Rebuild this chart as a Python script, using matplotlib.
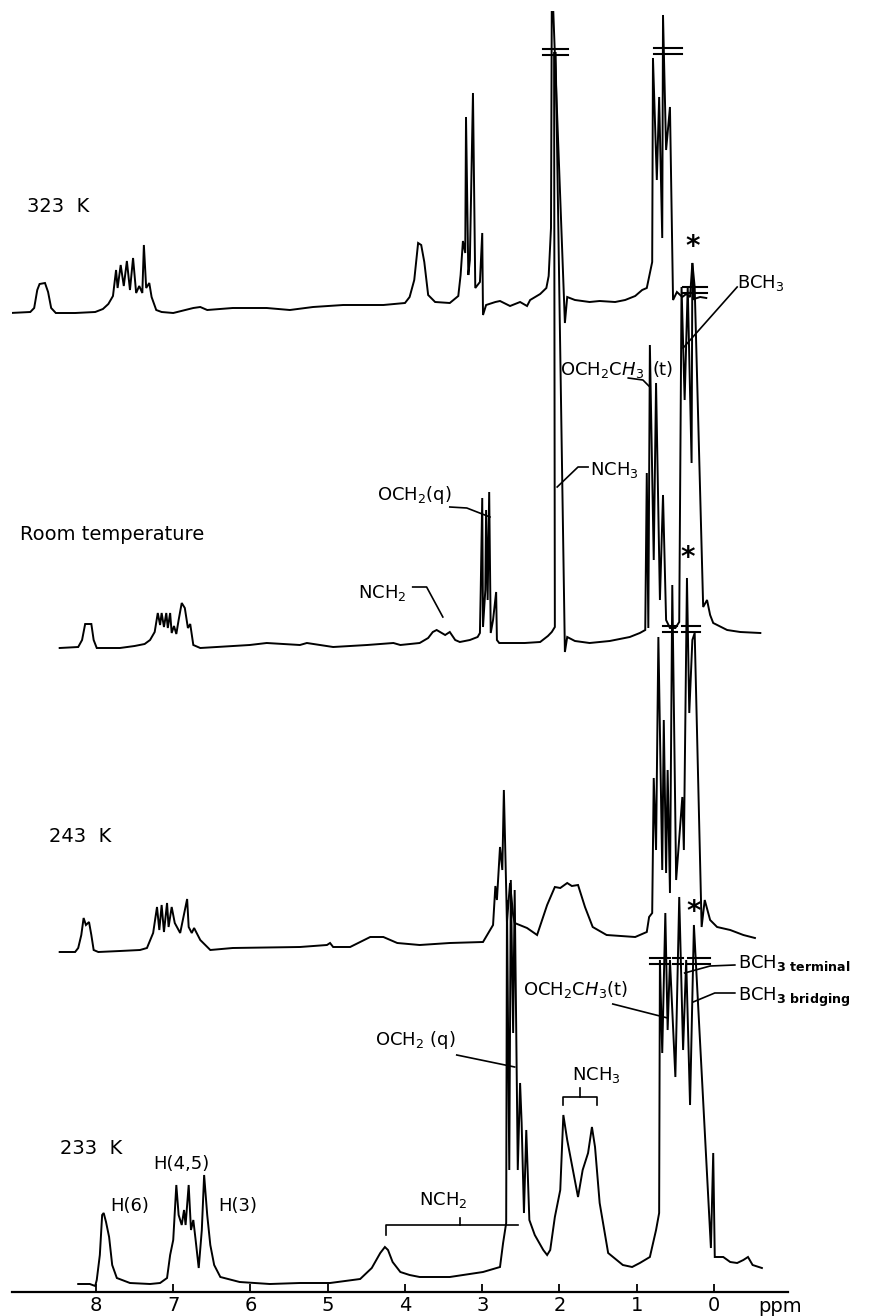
import numpy as np
import matplotlib.pyplot as plt

# (shift in ppm as read on the common axis, trace height above its own baseline)
trace_323 = [(9.11, -1), (8.85, 0), (8.80, 4), (8.76, 22), (8.73, 28), (8.66, 29), (8.62, 20), (8.58, 4),
             (8.52, -1), (8.27, -1), (8.01, 0), (7.91, 3), (7.84, 8), (7.78, 16), (7.74, 42), (7.72, 24),
             (7.68, 47), (7.64, 26), (7.60, 51), (7.56, 22), (7.52, 54), (7.48, 19), (7.44, 26), (7.40, 19),
             (7.38, 67), (7.35, 24), (7.31, 29), (7.28, 15), (7.22, 2), (7.15, 0), (7.00, -1), (6.74, 4),
             (6.65, 5), (6.56, 2), (6.23, 4), (5.79, 4), (5.49, 2), (5.19, 5), (4.80, 7), (4.28, 7),
             (4.00, 9), (3.94, 15), (3.88, 32), (3.83, 69), (3.79, 67),
             (3.75, 50), (3.70, 17), (3.61, 10), (3.42, 9), (3.31, 16), (3.28, 37), (3.25, 71), (3.22, 59),
             (3.21, 195), (3.18, 37), (3.16, 52), (3.12, 219), (3.09, 24), (3.03, 30), (3.00, 79), (2.99, -3),
             (2.95, 7), (2.83, 10), (2.77, 11), (2.64, 6), (2.51, 10), (2.42, 6), (2.38, 12), (2.25, 18),
             (2.17, 24), (2.14, 36), (2.11, 84), (2.10, 300), (2.08, 300), (1.93, -11), (1.90, 15), (1.80, 12),
             (1.61, 10), (1.48, 11), (1.28, 10), (1.15, 12), (1.02, 16), (0.93, 22), (0.87, 24), (0.80, 50),
             (0.79, 254), (0.74, 132), (0.71, 215), (0.67, 74), (0.66, 297), (0.62, 162), (0.57, 205), (0.53, 12),
             (0.48, 20), (0.41, 15), (0.36, 18), (0.31, 15), (0.28, 49), (0.26, 13), (0.18, 15), (0.10, 14)]

trace_rt = [(8.47, -3), (8.23, -2), (8.18, 5), (8.14, 21), (8.06, 21), (8.03, 5), (7.99, -3), (7.69, -3),
            (7.50, -1), (7.37, 1), (7.30, 5), (7.24, 13), (7.20, 32), (7.17, 20), (7.15, 32), (7.12, 18),
            (7.09, 32), (7.07, 17), (7.04, 32), (7.02, 12), (6.99, 19), (6.96, 11), (6.93, 25), (6.89, 42),
            (6.85, 37), (6.81, 17), (6.78, 21), (6.74, 0), (6.65, -3), (6.01, 0), (5.79, 2), (5.36, 0),
            (5.27, 2), (4.93, -2), (4.71, -1), (4.49, 0), (4.15, 2),
            (4.06, 0), (3.81, 2), (3.70, 7), (3.64, 13), (3.59, 15), (3.48, 10), (3.42, 13), (3.35, 5),
            (3.29, 3), (3.16, 5), (3.06, 8), (3.03, 12), (3.02, 53), (3.00, 147), (2.99, 18), (2.96, 55),
            (2.95, 135), (2.93, 45), (2.91, 153), (2.89, 12), (2.86, 25), (2.82, 53), (2.81, 5), (2.78, 2),
            (2.64, 2), (2.45, 2), (2.25, 3), (2.15, 9), (2.10, 13), (2.06, 18), (2.07, 592), (2.05, 592),
            (1.93, -7), (1.90, 8), (1.80, 4), (1.61, 2), (1.35, 4), (1.09, 8), (0.96, 12), (0.89, 15),
            (0.87, 172), (0.85, 17), (0.83, 300), (0.78, 85), (0.75, 262), (0.70, 45), (0.66, 150), (0.62, 25),
            (0.57, 17), (0.50, 17), (0.45, 23), (0.42, 358), (0.38, 245), (0.34, 358), (0.29, 182), (0.28, 382),
            (0.25, 358), (0.14, 38), (0.09, 45), (0.05, 30), (0.01, 22), (-0.17, 15), (-0.34, 13), (-0.60, 12)]

trace_243 = [(8.47, -2), (8.27, -2), (8.23, 2), (8.19, 15), (8.16, 32), (8.13, 25), (8.09, 28), (8.06, 15),
             (8.03, 0), (7.97, -2), (7.69, -1), (7.43, 0), (7.34, 2), (7.26, 17), (7.21, 43), (7.18, 20),
             (7.15, 45), (7.12, 18), (7.08, 47), (7.06, 23), (7.02, 43), (6.98, 27), (6.91, 17), (6.82, 51),
             (6.80, 23), (6.76, 17), (6.73, 22), (6.65, 10), (6.52, 0), (6.23, 2), (5.36, 3), (5.01, 5),
             (4.97, 7), (4.93, 3), (4.71, 3), (4.58, 8), (4.45, 13), (4.28, 13), (4.10, 7), (3.81, 5),
             (3.42, 7), (2.99, 8), (2.86, 25), (2.83, 64), (2.81, 50), (2.77, 103), (2.74, 80), (2.72, 160),
             (2.68, 28), (2.64, 67), (2.60, 35), (2.58, 27), (2.42, 22), (2.29, 15), (2.16, 45), (2.06, 63),
             (1.99, 62), (1.90, 67), (1.84, 64), (1.76, 65), (1.67, 43), (1.57, 23), (1.39, 15), (1.02, 13),
             (0.87, 18), (0.84, 33), (0.80, 37), (0.78, 172), (0.75, 100), (0.72, 313), (0.67, 80), (0.65, 230),
             (0.62, 77), (0.60, 180), (0.57, 57), (0.54, 365), (0.49, 70), (0.41, 153), (0.39, 100), (0.35, 372),
             (0.32, 237), (0.28, 310), (0.25, 317), (0.16, 23), (0.12, 50), (0.05, 30), (-0.04, 23), (-0.21, 20),
             (-0.38, 15), (-0.53, 12)]

trace_233 = [(8.23, -1), (8.08, -1), (8.01, -3), (7.99, 3), (7.95, 28), (7.92, 68), (7.90, 70), (7.87, 61),
             (7.83, 46), (7.79, 18), (7.73, 5), (7.56, 0), (7.30, -1), (7.17, 0), (7.08, 5), (7.04, 28),
             (7.00, 43), (6.96, 98), (6.93, 68), (6.89, 58), (6.86, 73), (6.84, 58), (6.80, 98), (6.77, 53),
             (6.74, 63), (6.71, 43), (6.67, 15), (6.63, 53), (6.60, 108), (6.56, 68), (6.52, 38), (6.47, 18),
             (6.39, 6), (6.14, 1), (5.75, -1), (5.36, 0), (4.97, 0), (4.58, 4), (4.43, 15), (4.32, 30),
             (4.26, 36), (4.22, 33), (4.16, 21), (4.06, 11), (3.94, 8), (3.81, 6), (3.42, 6), (2.99, 11),
             (2.77, 16), (2.73, 40), (2.69, 60), (2.68, 383), (2.65, 113), (2.63, 403), (2.60, 250), (2.58, 393),
             (2.54, 113), (2.51, 200), (2.49, 160), (2.46, 70), (2.43, 153), (2.39, 63), (2.32, 48), (2.21, 33),
             (2.16, 28), (2.12, 33), (2.06, 66), (1.99, 93), (1.95, 168), (1.90, 143), (1.76, 86), (1.70, 113),
             (1.63, 130), (1.58, 156), (1.54, 136), (1.48, 80), (1.37, 30), (1.18, 18), (1.06, 16), (0.96, 20),
             (0.83, 26), (0.75, 53), (0.71, 70), (0.70, 323), (0.67, 230), (0.63, 370), (0.60, 253), (0.57, 323),
             (0.50, 206), (0.45, 386), (0.40, 233), (0.36, 323), (0.31, 178), (0.26, 358), (0.04, 35), (0.01, 130),
             (-0.01, 26), (-0.12, 26), (-0.21, 21), (-0.30, 20), (-0.38, 23), (-0.44, 26), (-0.50, 18), (-0.62, 15)]

traces = [trace_323, trace_rt, trace_243, trace_233]
offsets = [980, 647, 342, 9]
temps = ["323  K", "Room temperature", "243  K", "233  K"]
temp_pos = [(8.89, 105), (8.98, 110), (8.61, 114), (8.47, 135)]

# broken peaks: (from ppm, to ppm, height)
breaks = [[(2.21, 1.89, 260), (0.78, 0.41, 261)],
          [(0.40, 0.09, 355)],
          [(0.66, 0.48, 321), (0.41, 0.18, 321)],
          [(0.83, 0.57, 322), (0.53, 0.40, 322), (0.34, 0.05, 322)]]

fig = plt.figure(figsize=(8.86, 13.16), dpi=100)
ax = fig.add_axes([12 / 886, 24 / 1316, 776 / 886, 1292 / 1316])
ax.set_xlim(9.087, -0.958)
ax.set_ylim(0, 1292)

for tr, off in zip(traces, offsets):
    x, y = np.array(tr).T
    ax.plot(x, y + off, color="black", lw=1.4, solid_joinstyle="miter")

for brk, off in zip(breaks, offsets):
    for a, b, h in brk:
        for d in (-3, 3):
            ax.plot([a, b], [off + h + d] * 2, color="black", lw=1.5)

for t, off, (px, dy) in zip(temps, offsets, temp_pos):
    ax.text(px, off + dy, t, fontsize=14, ha="left", va="center")

fs = 13
# 233 K assignments
ax.text(7.82, 86, "H(6)", fontsize=fs, va="center")
ax.text(7.26, 128, "H(4,5)", fontsize=fs, va="center")
ax.text(6.42, 86, "H(3)", fontsize=fs, va="center")
ax.text(3.82, 92, r"NCH$_2$", fontsize=fs, va="center")
ax.plot([4.25, 4.25, 2.54], [57, 67, 67], color="black", lw=1.2)
ax.plot([3.29, 3.29], [67, 74], color="black", lw=1.2)
ax.text(4.39, 252, r"OCH$_2$ (q)", fontsize=fs, va="center")
ax.plot([3.33, 2.58], [237, 225], color="black", lw=1.2)
ax.text(1.84, 217, r"NCH$_3$", fontsize=fs, va="center")
ax.plot([1.95, 1.95, 1.51, 1.51], [187, 195, 195, 187], color="black", lw=1.2)
ax.plot([1.73, 1.73], [195, 204], color="black", lw=1.2)
ax.text(2.47, 302, r"OCH$_2$C$\mathit{H}_3$(t)", fontsize=fs, va="center")
ax.plot([1.31, 0.60], [288, 274], color="black", lw=1.2)
ax.text(-0.31, 329, r"BCH$_{\mathbf{3\ terminal}}$", fontsize=fs, va="center")
ax.plot([-0.27, 0.05, 0.38], [327, 326, 319], color="black", lw=1.2)
ax.text(-0.31, 295, r"BCH$_{\mathbf{3\ bridging}}$", fontsize=fs, va="center")
ax.plot([-0.27, -0.01, 0.27], [299, 299, 290], color="black", lw=1.2)

# room temperature assignments
ax.text(4.61, 699, r"NCH$_2$", fontsize=fs, va="center")
ax.plot([3.90, 3.72, 3.51], [705, 705, 675], color="black", lw=1.2)
ax.text(4.36, 797, r"OCH$_2$(q)", fontsize=fs, va="center")
ax.plot([3.42, 3.20, 2.90], [785, 784, 775], color="black", lw=1.2)
ax.text(1.61, 822, r"NCH$_3$", fontsize=fs, va="center")
ax.plot([1.63, 1.76, 2.03], [825, 825, 805], color="black", lw=1.2)
ax.text(1.99, 922, r"OCH$_2$C$\mathit{H}_3$", fontsize=fs, va="center")
ax.text(0.80, 922, "(t)", fontsize=fs, va="center")
ax.plot([1.11, 0.92, 0.83], [914, 912, 905], color="black", lw=1.2)
ax.text(-0.30, 1009, r"BCH$_3$", fontsize=fs, va="center")
ax.plot([-0.30, 0.40], [1005, 944], color="black", lw=1.2)

for sx, sy in [(0.28, 1045), (0.34, 734), (0.26, 380)]:
    ax.text(sx, sy, "*", fontsize=20, ha="center", va="center", fontweight="bold")

for s in ["top", "left", "right"]:
    ax.spines[s].set_visible(False)
ax.spines["bottom"].set_linewidth(1.6)
ax.set_yticks([])
ax.set_xticks(range(0, 9))
ax.set_xticklabels([str(i) for i in range(0, 9)])
ax.tick_params(axis="x", direction="in", length=6, width=1.3, labelsize=14, pad=3)
ax.text(-0.86, -14, "ppm", fontsize=14, ha="center", va="center")

fig.savefig("out.png", dpi=100)
